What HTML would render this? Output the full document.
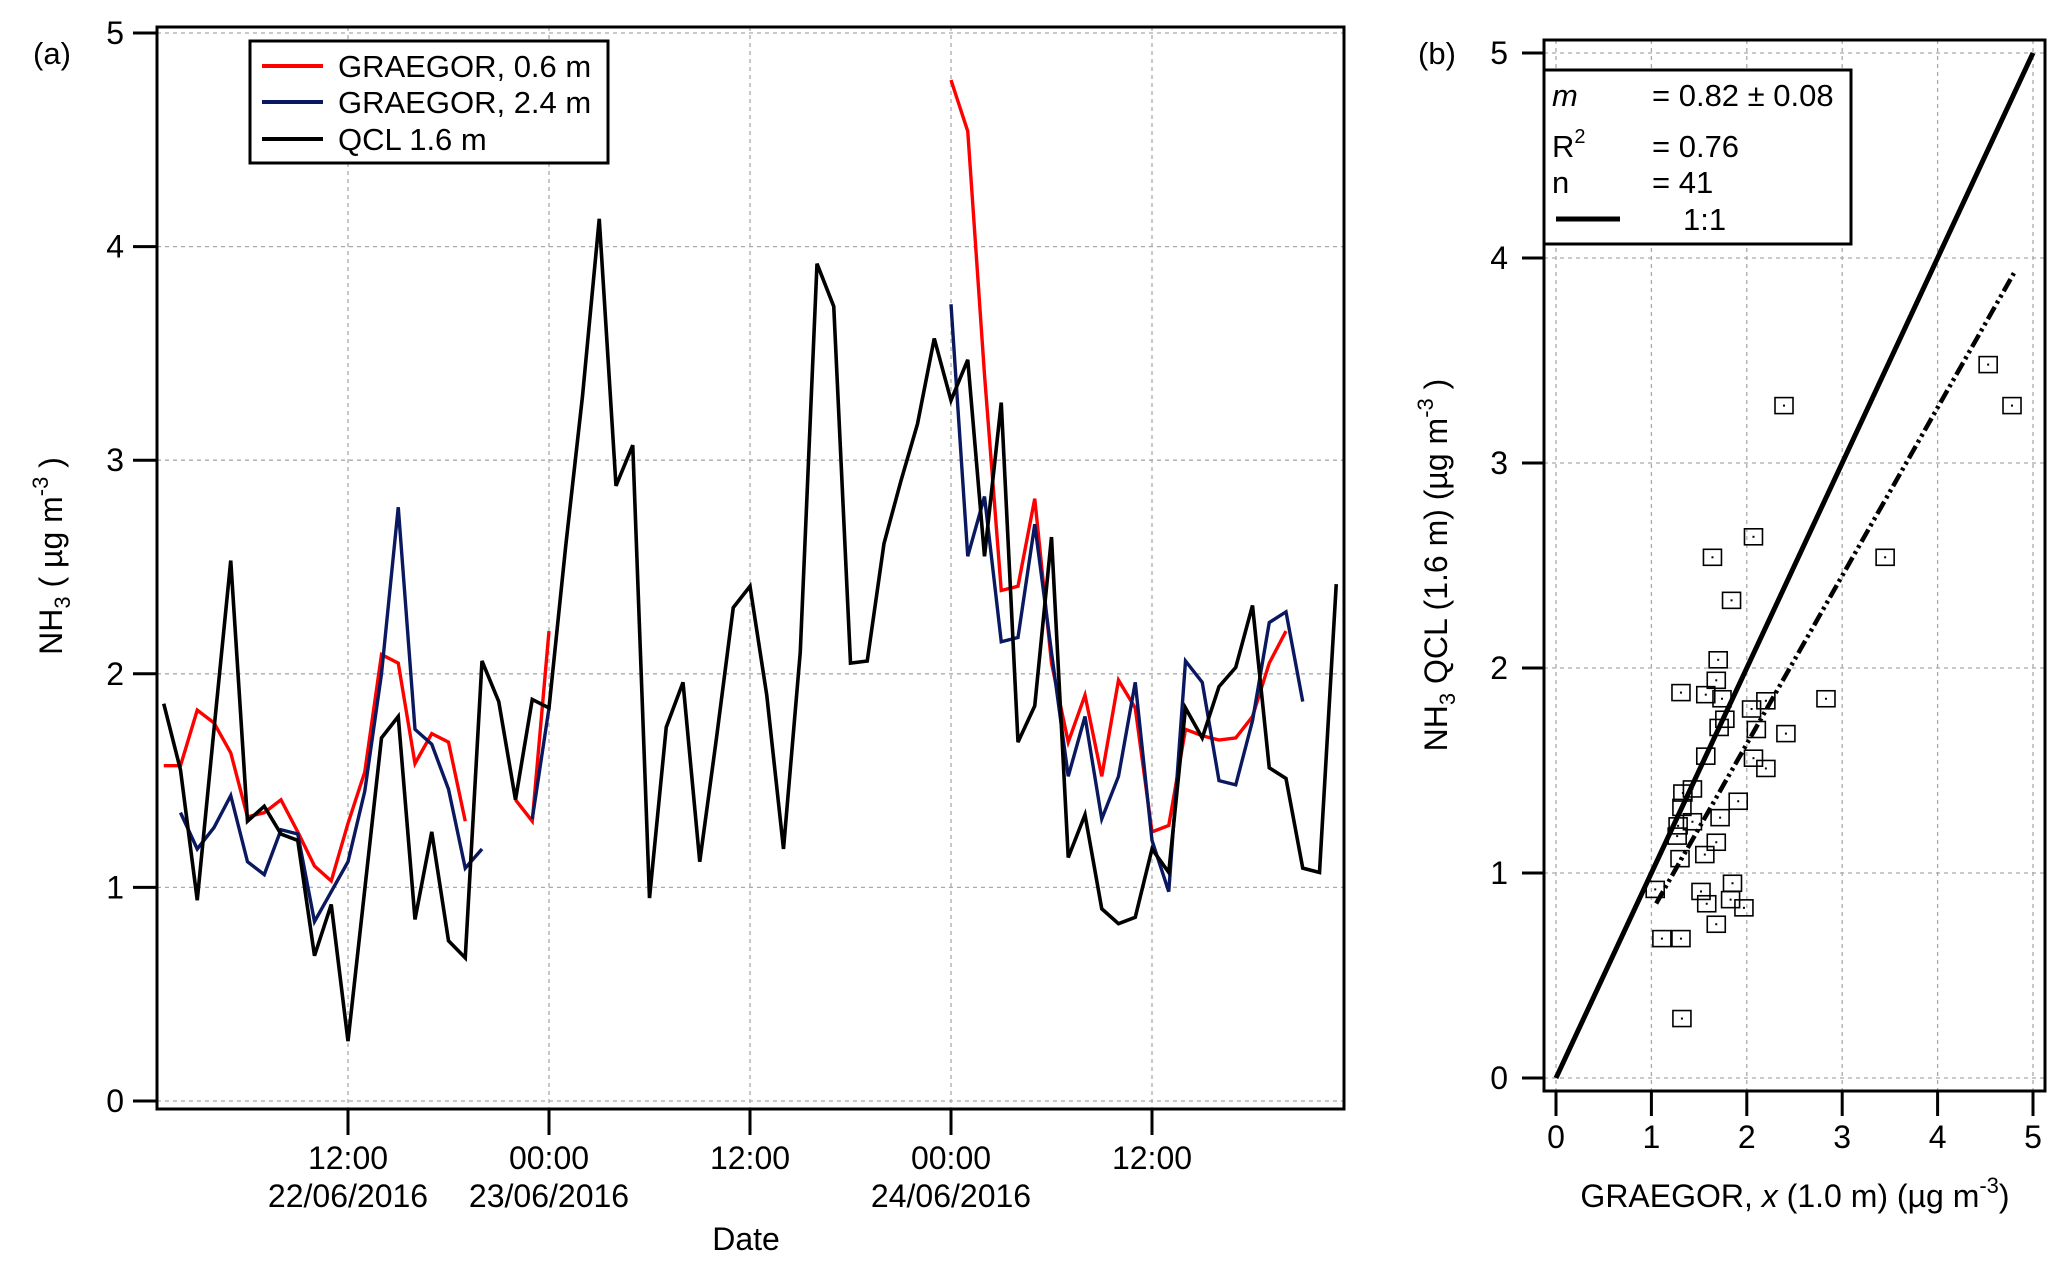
<!DOCTYPE html>
<html><head><meta charset="utf-8"><style>
body{margin:0;background:#fff}
svg{display:block;font-family:"Liberation Sans",Arial,sans-serif}
</style></head><body>
<svg id="chart" width="2067" height="1267" viewBox="0 0 2067 1267" xmlns="http://www.w3.org/2000/svg">
<g id="pa"></g>
<g id="pb"></g>
</svg>
<script>
// Panel (a) data: hours since 00:00 22/06/2016, values in µg m-3
const qclT = [1,2,3,4,5,6,7,8,9,10,11,12,14,15,16,17,18,19,20,21,22,23,24,25,26,27,28,29,30,31,32,33,34,35,36,37,38,39,40,41,42,43,44,45,46,47,48,49,50,51,52,53,54,55,56,57,58,59,60,61,62,63,64,65,66,67,68,69,70,71];
const qclV = [1.86,1.55,0.94,1.74,2.53,1.31,1.38,1.25,1.22,0.68,0.92,0.28,1.70,1.80,0.85,1.26,0.75,0.67,2.06,1.87,1.41,1.88,1.84,2.6,3.3,4.13,2.88,3.07,0.95,1.75,1.96,1.12,1.7,2.31,2.41,1.90,1.18,2.10,3.92,3.72,2.05,2.06,2.61,2.90,3.17,3.57,3.28,3.47,2.55,3.27,1.68,1.85,2.64,1.14,1.34,0.90,0.83,0.86,1.18,1.07,1.84,1.70,1.94,2.03,2.32,1.56,1.51,1.09,1.07,2.42];
const redSeg1T = [1,2,3,4,5,6,7,8,9,10,11,12,13,14,15,16,17,18,19];
const redSeg1V = [1.57,1.57,1.83,1.77,1.63,1.33,1.35,1.41,1.26,1.10,1.03,1.30,1.54,2.09,2.05,1.58,1.72,1.68,1.31];
const redSeg2T = [22,23,24];
const redSeg2V = [1.41,1.31,2.20];
const redSeg3T = [48,49,50,51,52,53,54,55,56,57,58,59,60,61,62,63,64,65,66,67,68];
const redSeg3V = [4.78,4.54,3.4,2.39,2.41,2.82,2.05,1.68,1.90,1.52,1.97,1.84,1.26,1.29,1.74,1.71,1.69,1.70,1.80,2.05,2.20];
const blueSeg1T = [2,3,4,5,6,7,8,9,10,11,12,13,14,15,16,17,18,19,20];
const blueSeg1V = [1.35,1.18,1.28,1.43,1.12,1.06,1.27,1.25,0.84,0.98,1.12,1.45,2.00,2.78,1.74,1.67,1.46,1.09,1.18];
const blueSeg2T = [23,24];
const blueSeg2V = [1.32,1.84];
const blueSeg3T = [48,49,50,51,52,53,54,55,56,57,58,59,60,61,62,63,64,65,66,67,68,69];
const blueSeg3V = [3.73,2.55,2.83,2.15,2.17,2.70,2.10,1.52,1.80,1.32,1.52,1.96,1.22,0.98,2.06,1.96,1.50,1.48,1.78,2.24,2.29,1.87];
const yTicksA = [0,1,2,3,4,5];
const xTicksA = [12,24,36,48,60];
const xTickTime = ["12:00","00:00","12:00","00:00","12:00"];
const xTickDate = ["22/06/2016","23/06/2016","","24/06/2016",""];
// Panel (b) data
const scatX = [4.53,4.78,2.39,2.07,1.64,3.45,1.84,1.70,1.68,1.31,1.57,1.74,2.20,2.83,2.05,1.77,1.71,2.10,2.41,1.57,2.07,2.20,1.43,1.33,1.91,1.32,1.72,1.43,1.28,1.27,1.68,1.56,1.30,1.04,1.52,1.85,1.58,1.83,1.97,1.68,1.11,1.31,1.32];
const scatY = [3.48,3.28,3.28,2.64,2.54,2.54,2.33,2.04,1.94,1.88,1.87,1.85,1.84,1.85,1.80,1.75,1.71,1.70,1.68,1.57,1.56,1.51,1.41,1.39,1.35,1.32,1.27,1.25,1.23,1.18,1.15,1.09,1.07,0.92,0.91,0.95,0.85,0.87,0.83,0.75,0.68,0.68,0.29];
const fitSlope = [0.82];
const fitIntercept = [-0.01];
const fitRange = [1.05,4.8];
const ticksB = [0,1,2,3,4,5];

const NS="http://www.w3.org/2000/svg";
function mk(parent,tag,attrs,text){const e=document.createElementNS(NS,tag);for(const k in attrs)e.setAttribute(k,attrs[k]);if(text!==undefined)e.textContent=text;parent.appendChild(e);return e;}
const pa=document.getElementById('pa'), pb=document.getElementById('pb');

// ---- Panel A ----
const AL=157,AR=1344,AT=27,AB=1109;
const xa=t=>348+(t-12)*16.75;
const ya=v=>1101-v*213.6;
yTicksA.forEach(v=>{
  const g=mk(pa,'line',{x1:AL,x2:AR,y1:ya(v),y2:ya(v),stroke:'#aaa','stroke-width':1.3,'stroke-dasharray':'4,4'});
  
  
  const tk=mk(pa,'line',{x1:133,x2:AL,y1:ya(v),y2:ya(v),stroke:'#000','stroke-width':3});
  
  
  const tl=mk(pa,'text',{x:124,y:ya(v)+11,'text-anchor':'end','font-size':32},String(v));
  
  
});
xTicksA.forEach((t,i)=>{
  const g=mk(pa,'line',{x1:xa(t),x2:xa(t),y1:AT,y2:AB,stroke:'#aaa','stroke-width':1.3,'stroke-dasharray':'4,4'});
  
  
  const tk=mk(pa,'line',{x1:xa(t),x2:xa(t),y1:AB,y2:1135,stroke:'#000','stroke-width':3});
  
  
  const l1=mk(pa,'text',{x:xa(t),y:1169,'text-anchor':'middle','font-size':32},xTickTime[i]);
  
  
  if(xTickDate[i]){const l2=mk(pa,'text',{x:xa(t),y:1207,'text-anchor':'middle','font-size':32},xTickDate[i]);
  
  }
});
function series(par,T,V,col,name,xf,yf,w){
  const p=mk(par,'polyline',{points:T.map((t,i)=>xf(t)+','+yf(V[i])).join(' '),fill:'none',stroke:col,'stroke-width':w,'stroke-linejoin':'miter'});
  
  
}
series(pa,redSeg1T,redSeg1V,'#ff0000','series-graegor-0.6m',xa,ya,3.4);
series(pa,redSeg2T,redSeg2V,'#ff0000','series-graegor-0.6m',xa,ya,3.4);
series(pa,redSeg3T,redSeg3V,'#ff0000','series-graegor-0.6m',xa,ya,3.4);
series(pa,blueSeg1T,blueSeg1V,'#0a1860','series-graegor-2.4m',xa,ya,3.4);
series(pa,blueSeg2T,blueSeg2V,'#0a1860','series-graegor-2.4m',xa,ya,3.4);
series(pa,blueSeg3T,blueSeg3V,'#0a1860','series-graegor-2.4m',xa,ya,3.4);
series(pa,qclT,qclV,'#000','series-qcl-1.6m',xa,ya,3.6);
const fa=mk(pa,'rect',{x:AL,y:AT,width:AR-AL,height:AB-AT,fill:'none',stroke:'#000','stroke-width':3});


const lg=mk(pa,'g',{});


mk(lg,'rect',{x:250,y:41,width:358,height:122,fill:'#fff',stroke:'#000','stroke-width':3});
[['#ff0000','GRAEGOR, 0.6 m',66],['#0a1860','GRAEGOR, 2.4 m',102],['#000','QCL 1.6 m',139]].forEach(e=>{
  const ent=mk(lg,'g',{});
  
  
  mk(ent,'line',{x1:262,x2:323,y1:e[2],y2:e[2],stroke:e[0],'stroke-width':4});
  mk(ent,'text',{x:338,y:e[2]+11,'font-size':31},e[1]);
});
const ta=mk(pa,'text',{x:33,y:64,'font-size':31},'(a)');


const dt=mk(pa,'text',{x:746,y:1250,'text-anchor':'middle','font-size':32},'Date');


const yt=mk(pa,'text',{transform:'translate(62,556) rotate(-90)','text-anchor':'middle','font-size':32});


yt.innerHTML='NH<tspan font-size="22" dy="8">3</tspan><tspan dy="-8"> ( µg m</tspan><tspan font-size="22" dy="-14">-3</tspan><tspan dy="14"> )</tspan>';

// ---- Panel B ----
const BL=1544,BR=2045,BT=40,BB=1091;
const xb=v=>1556+v*95.4;
const yb=v=>1078-v*205;
ticksB.forEach(v=>{
  const g1=mk(pb,'line',{x1:BL,x2:BR,y1:yb(v),y2:yb(v),stroke:'#aaa','stroke-width':1.3,'stroke-dasharray':'4,4'});
  
  
  const g2=mk(pb,'line',{x1:xb(v),x2:xb(v),y1:BT,y2:BB,stroke:'#aaa','stroke-width':1.3,'stroke-dasharray':'4,4'});
  
  
  const t1=mk(pb,'line',{x1:1522,x2:BL,y1:yb(v),y2:yb(v),stroke:'#000','stroke-width':3});
  
  
  const t2=mk(pb,'line',{x1:xb(v),x2:xb(v),y1:BB,y2:1116,stroke:'#000','stroke-width':3});
  
  
  const l1=mk(pb,'text',{x:1508,y:yb(v)+11,'text-anchor':'end','font-size':32},String(v));
  
  
  const l2=mk(pb,'text',{x:xb(v),y:1148,'text-anchor':'middle','font-size':32},String(v));
  
  
});
const one=mk(pb,'line',{x1:xb(0),y1:yb(0),x2:xb(5),y2:yb(5),stroke:'#000','stroke-width':5});


const fit=mk(pb,'line',{x1:xb(fitRange[0]),y1:yb(fitSlope[0]*fitRange[0]+fitIntercept[0]),x2:xb(fitRange[1]),y2:yb(fitSlope[0]*fitRange[1]+fitIntercept[0]),stroke:'#000','stroke-width':4.5,'stroke-dasharray':'14,4,3,4,3,4'});


scatX.forEach((x,i)=>{
  const r=mk(pb,'rect',{x:xb(x)-9,y:yb(scatY[i])-8,width:18,height:16,fill:'none',stroke:'#000','stroke-width':1.6});
  
  
  mk(pb,'rect',{x:xb(x)-1,y:yb(scatY[i])-1,width:2,height:2,fill:'#000'});
});
const fb=mk(pb,'rect',{x:BL,y:BT,width:BR-BL,height:BB-BT,fill:'none',stroke:'#000','stroke-width':3});


const lb=mk(pb,'g',{});


mk(lb,'rect',{x:1544,y:70,width:307,height:174,fill:'#fff',stroke:'#000','stroke-width':3});
mk(lb,'text',{x:1552,y:106,'font-size':31,'font-style':'italic'},'m');
mk(lb,'text',{x:1652,y:106,'font-size':31},'= 0.82 ± 0.08');
const r2=mk(lb,'text',{x:1552,y:157,'font-size':31});r2.innerHTML='R<tspan font-size="20" dy="-14">2</tspan>';
mk(lb,'text',{x:1652,y:157,'font-size':31},'= 0.76');
mk(lb,'text',{x:1552,y:193,'font-size':31},'n');
mk(lb,'text',{x:1652,y:193,'font-size':31},'= 41');
mk(lb,'line',{x1:1556,x2:1620,y1:219,y2:219,stroke:'#000','stroke-width':5});
mk(lb,'text',{x:1683,y:230,'font-size':31},'1:1');
const tb=mk(pb,'text',{x:1418,y:64,'font-size':31},'(b)');


const xtb=mk(pb,'text',{x:1795,y:1207,'text-anchor':'middle','font-size':32});


xtb.innerHTML='GRAEGOR, <tspan font-style="italic">x</tspan> (1.0 m)  (µg m<tspan font-size="22" dy="-14">-3</tspan><tspan dy="14">)</tspan>';
const ytb=mk(pb,'text',{transform:'translate(1447,565) rotate(-90)','text-anchor':'middle','font-size':32});


ytb.innerHTML='NH<tspan font-size="22" dy="8">3</tspan><tspan dy="-8"> QCL (1.6 m) (µg m</tspan><tspan font-size="22" dy="-14">-3</tspan><tspan dy="14"> )</tspan>';
</script>
</body></html>
